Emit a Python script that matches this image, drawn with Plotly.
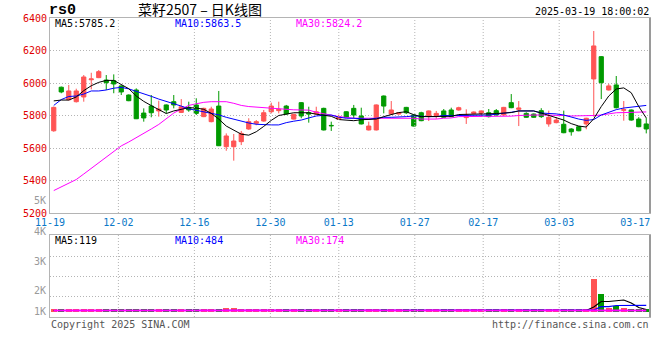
import plotly.graph_objects as go

# ---------------- data ----------------
tick_labels = ["11-19", "12-02", "12-16", "12-30", "01-13", "01-27", "02-17", "03-03", "03-17"]
tick_index = [0, 9, 19, 29, 38, 48, 57, 67, 77]

open_ = [5706, 5974, 5897, 5885, 5914, 6020, 6033, 6018, 6014, 5982,
         5926, 5957, 5815, 5858, 5828, 5865, 5885, 5819, 5850, 5865,
         5793, 5762, 5858, 5608, 5608, 5639, 5717, 5752, 5766, 5823,
         5830, 5858, 5778, 5879, 5817, 5809, 5844, 5739, 5777, 5823,
         5844, 5797, 5711, 5711, 5920, 5809, 5809, 5850, 5803, 5817,
         5793, 5799, 5828, 5834, 5834, 5787, 5813, 5813, 5817, 5830,
         5803, 5879, 5838, 5813, 5809, 5830, 5748, 5756, 5746, 5717,
         5731, 5748, 6025, 6162, 5957, 5988, 5832, 5834, 5778, 5748]
high = [5855, 5978, 5988, 5965, 6049, 6063, 6080, 6049, 6053, 5985,
        5930, 5967, 5844, 5926, 5891, 5868, 5926, 5901, 5885, 5906,
        5848, 5854, 5951, 5690, 5686, 5705, 5783, 5772, 5834, 5879,
        5885, 5865, 5810, 5883, 5854, 5854, 5848, 5762, 5805, 5826,
        5865, 5848, 5762, 5868, 5923, 5889, 5820, 5853, 5806, 5823,
        5831, 5828, 5840, 5848, 5854, 5838, 5825, 5831, 5840, 5840,
        5853, 5932, 5889, 5820, 5812, 5845, 5830, 5790, 5830, 5722,
        5735, 5786, 6320, 6166, 5995, 6043, 5889, 5837, 5790, 5785]
low = [5700, 5937, 5893, 5880, 5885, 5961, 6030, 5957, 5937, 5926,
       5888, 5778, 5762, 5789, 5793, 5813, 5844, 5815, 5823, 5803,
       5790, 5758, 5612, 5583, 5522, 5618, 5712, 5740, 5762, 5813,
       5813, 5806, 5775, 5783, 5756, 5805, 5708, 5705, 5774, 5786,
       5781, 5745, 5708, 5708, 5813, 5805, 5806, 5809, 5732, 5765,
       5766, 5780, 5786, 5790, 5830, 5748, 5810, 5795, 5788, 5800,
       5800, 5845, 5735, 5786, 5786, 5785, 5731, 5752, 5691, 5676,
       5703, 5715, 5793, 5901, 5954, 5843, 5768, 5768, 5728, 5690]
close = [5850, 5945, 5951, 5951, 6037, 6025, 6070, 6002, 5994, 5945,
         5891, 5780, 5785, 5817, 5840, 5834, 5865, 5854, 5834, 5813,
         5844, 5840, 5614, 5674, 5643, 5690, 5762, 5762, 5817, 5858,
         5838, 5809, 5807, 5797, 5809, 5823, 5711, 5737, 5793, 5789,
         5803, 5748, 5735, 5865, 5858, 5834, 5817, 5817, 5735, 5768,
         5828, 5813, 5789, 5793, 5848, 5803, 5821, 5828, 5793, 5803,
         5850, 5848, 5846, 5789, 5789, 5793, 5789, 5772, 5694, 5700,
         5706, 5783, 6228, 6002, 5982, 5848, 5836, 5772, 5731, 5717]

ma5 = [5890, 5895, 5895, 5914, 5953, 5983, 6004, 6016, 6016, 5993,
       5965, 5920, 5887, 5861, 5834, 5812, 5828, 5837, 5848, 5846,
       5838, 5813, 5778, 5735, 5712, 5685, 5679, 5700, 5733, 5770,
       5800, 5810, 5817, 5817, 5817, 5808, 5801, 5795, 5775, 5770,
       5768, 5774, 5774, 5778, 5793, 5805, 5818, 5823, 5805, 5793,
       5793, 5793, 5793, 5795, 5806, 5807, 5807, 5807, 5807, 5812,
       5815, 5818, 5828, 5828, 5828, 5815, 5800, 5788, 5772, 5750,
       5735, 5729, 5780, 5855, 5920, 5963, 5970, 5940, 5855, 5785]
ma10 = [5862, 5898, 5917, 5920, 5932, 5951, 5951, 5957, 5968, 5973,
        5964, 5950, 5935, 5918, 5901, 5888, 5875, 5858, 5841, 5832,
        5825, 5816, 5804, 5789, 5777, 5766, 5754, 5746, 5742, 5742,
        5742, 5756, 5765, 5772, 5785, 5797, 5801, 5803, 5790, 5783,
        5783, 5780, 5777, 5783, 5789, 5789, 5789, 5793, 5797, 5793,
        5793, 5793, 5800, 5799, 5799, 5801, 5803, 5803, 5803, 5808,
        5813, 5820, 5828, 5828, 5828, 5815, 5813, 5810, 5803, 5790,
        5778, 5770, 5775, 5803, 5818, 5836, 5846, 5852, 5858, 5862]
ma30 = [5338, 5359, 5380, 5406, 5440, 5474, 5508, 5541, 5580, 5613,
        5637, 5662, 5688, 5717, 5745, 5779, 5815, 5840, 5862, 5872,
        5881, 5885, 5886, 5885, 5875, 5862, 5855, 5851, 5849, 5847,
        5842, 5838, 5835, 5834, 5833, 5820, 5810, 5800, 5793, 5788,
        5783, 5783, 5783, 5783, 5783, 5783, 5783, 5783, 5783, 5778,
        5776, 5778, 5783, 5785, 5793, 5793, 5793, 5793, 5793, 5793,
        5793, 5796, 5800, 5803, 5803, 5803, 5803, 5803, 5800, 5797,
        5797, 5797, 5800, 5803, 5812, 5817, 5818, 5820, 5821, 5822]

volume = [150, 150, 150, 150, 150, 150, 150, 150, 150, 150,
          150, 150, 150, 150, 150, 150, 150, 150, 150, 150,
          150, 150, 150, 200, 200, 150, 150, 150, 150, 150,
          150, 150, 150, 150, 150, 150, 150, 150, 150, 150,
          150, 150, 150, 150, 150, 150, 150, 150, 150, 150,
          150, 150, 150, 150, 150, 150, 150, 150, 150, 150,
          150, 150, 150, 150, 150, 150, 150, 150, 150, 150,
          150, 150, 1625, 875, 190, 275, 190, 140, 140, 140]
vol_ma5 = [50, 50, 50, 50, 50, 50, 50, 50, 50, 50,
           50, 50, 50, 50, 50, 50, 50, 50, 50, 50,
           50, 50, 50, 50, 50, 50, 50, 50, 50, 50,
           50, 50, 50, 50, 50, 50, 50, 50, 50, 50,
           50, 50, 50, 50, 50, 50, 50, 50, 50, 50,
           50, 50, 50, 50, 50, 50, 50, 50, 50, 50,
           50, 50, 50, 50, 50, 50, 50, 50, 50, 50,
           50, 50, 225, 500, 500, 550, 575, 425, 200, 100]
vol_ma10 = [50, 50, 50, 50, 50, 50, 50, 50, 50, 50,
            50, 50, 50, 50, 50, 50, 50, 50, 50, 50,
            50, 50, 50, 50, 50, 50, 50, 50, 50, 50,
            50, 50, 50, 50, 50, 50, 50, 50, 50, 50,
            50, 50, 50, 50, 50, 50, 50, 50, 50, 50,
            50, 50, 50, 50, 50, 50, 50, 50, 50, 50,
            50, 50, 50, 50, 50, 50, 50, 50, 50, 50,
            50, 50, 75, 240, 240, 300, 310, 310, 310, 310]
vol_ma30 = [50, 50, 50, 50, 50, 50, 50, 50, 50, 50,
            50, 50, 50, 50, 50, 50, 50, 50, 50, 50,
            50, 50, 50, 50, 50, 50, 50, 50, 50, 50,
            50, 50, 50, 50, 50, 50, 50, 50, 50, 50,
            50, 50, 50, 50, 50, 50, 50, 50, 50, 50,
            50, 50, 50, 50, 50, 50, 50, 50, 50, 50,
            50, 50, 50, 50, 50, 50, 50, 50, 50, 50,
            50, 50, 50, 50, 50, 50, 50, 50, 50, 50]

price_ticks = [5200, 5400, 5600, 5800, 6000, 6200, 6400]
vol_tick_labels = ["5K", "4K", "3K", "2K", "1K"]
title_text = "菜籽2507 – 日K线图"
symbol_text = "rs0"
time_text = "2025-03-19 18:00:02"
ma_price_text = ["MA5:5785.2", "MA10:5863.5", "MA30:5824.2"]
ma_vol_text = ["MA5:119", "MA10:484", "MA30:174"]

# ---------------- styling ----------------
W, H = 660, 360
RED, GREEN = "#ff5454", "#009a00"
MA_COLORS = ["#000000", "#0000ff", "#ff00ff"]
GRID = "#b4b4b4"
MONO = "DejaVu Sans Mono"


def px(x):
    return x / W


def py(y):
    return 1 - y / H


n = len(close)
xs = [i + 0.5 for i in range(n)]
grid_scale = 76 / 75
tick_pos = [k * grid_scale for k in tick_index]
vol_colors = [RED if c >= o else GREEN for o, c in zip(open_, close)]

fig = go.Figure()
fig.add_trace(go.Candlestick(
    x=xs, open=open_, high=high, low=low, close=close,
    increasing=dict(line=dict(color=RED, width=1), fillcolor=RED),
    decreasing=dict(line=dict(color=GREEN, width=1), fillcolor=GREEN),
    whiskerwidth=0, hoverinfo="skip", xaxis="x", yaxis="y", showlegend=False))
for vals, col in zip([ma30, ma10, ma5], [MA_COLORS[2], MA_COLORS[1], MA_COLORS[0]]):
    fig.add_trace(go.Scatter(x=xs, y=vals, mode="lines", line=dict(color=col, width=1),
                             hoverinfo="skip", xaxis="x", yaxis="y", showlegend=False))

fig.add_trace(go.Bar(x=xs, y=volume, marker=dict(color=vol_colors, line=dict(width=0)),
                     width=0.82, hoverinfo="skip", xaxis="x2", yaxis="y2", showlegend=False))
for vals, col, w in zip([vol_ma5, vol_ma10, vol_ma30], MA_COLORS, [1.2, 1.2, 2]):
    fig.add_trace(go.Scatter(x=xs, y=vals, mode="lines", line=dict(color=col, width=w),
                             hoverinfo="skip", xaxis="x2", yaxis="y2", showlegend=False))

xdom = [px(50), px(650)]
main_dom = [py(213), py(18)]
vol_dom = [py(317), py(235)]

axis_common = dict(showline=True, mirror=True, linecolor=GRID, linewidth=1, zeroline=False,
                   fixedrange=True, automargin=False)
fig.update_layout(
    width=W, height=H, margin=dict(l=0, r=0, t=0, b=0, autoexpand=False),
    paper_bgcolor="white", plot_bgcolor="white", boxgap=0.2, bargap=0,
    xaxis=dict(domain=xdom, range=[0, n], anchor="y", tickmode="array",
               tickvals=tick_pos, ticktext=tick_labels, showgrid=False, ticks="",
               tickfont=dict(family=MONO, size=10, color="#0a78c8"),
               rangeslider=dict(visible=False), **axis_common),
    yaxis=dict(domain=main_dom, range=[5200, 6400], anchor="x", tickmode="array",
               tickvals=price_ticks, ticktext=[str(v) for v in price_ticks],
               tickfont=dict(family=MONO, size=10, color="#e00000"),
               showgrid=True, gridcolor=GRID, griddash="1px,2px", gridwidth=1, ticks="",
               **axis_common),
    xaxis2=dict(domain=xdom, range=[0, n], anchor="y2", showticklabels=False,
                showgrid=False, ticks="", **axis_common),
    yaxis2=dict(domain=vol_dom, range=[-275, 3825], anchor="x2", tickmode="array",
                tickvals=[775, 1775, 2775], showticklabels=False,
                showgrid=True, gridcolor=GRID, griddash="1px,2px", gridwidth=1, ticks="",
                **axis_common),
)

shapes = []
for tp in tick_pos[1:-1]:
    for xr, dom in (("x", main_dom), ("x2", vol_dom)):
        shapes.append(dict(type="line", xref=xr, yref="paper", x0=tp, x1=tp,
                           y0=dom[0], y1=dom[1],
                           line=dict(color=GRID, width=1, dash="1px,2px")))
for dom in (main_dom, vol_dom):
    shapes.append(dict(type="line", xref="paper", yref="paper", x0=xdom[1], x1=xdom[1],
                       y0=dom[0], y1=dom[1], line=dict(color="#9a9a9a", width=2)))
fig.update_layout(shapes=shapes)

ann = []


def text(x, y, s, color="#000", size=10, family=MONO, xanchor="left"):
    ann.append(dict(x=px(x), y=py(y), xref="paper", yref="paper", text=s, showarrow=False,
                    xanchor=xanchor, yanchor="middle", font=dict(family=family, size=size, color=color)))


text(47, 10, "<b>" + symbol_text + "</b>", size=15, family="Liberation Mono")
text(200, 9, title_text, size=14, family="Noto Sans CJK SC", xanchor="center")
text(651, 12, time_text, xanchor="right")
for s, x0, c in zip(ma_price_text, [53, 173, 294], MA_COLORS):
    text(x0, 24, s, color=c)
for s, x0, c in zip(ma_vol_text, [53, 173, 294], MA_COLORS):
    text(x0, 240, s, color=c)
for s, yy in zip(vol_tick_labels, [200.5, 231, 261, 290, 311]):
    text(48, yy, s, color="#9a9a9a", xanchor="right")
text(49, 324, "Copyright 2025 SINA.COM", color="#555555")
text(651, 324, "http://finance.sina.com.cn", color="#555555", xanchor="right")
fig.update_layout(annotations=ann)

fig.write_html("out.html", config={"displayModeBar": False},
               post_script="document.body.style.margin='0';document.body.style.padding='0';")
